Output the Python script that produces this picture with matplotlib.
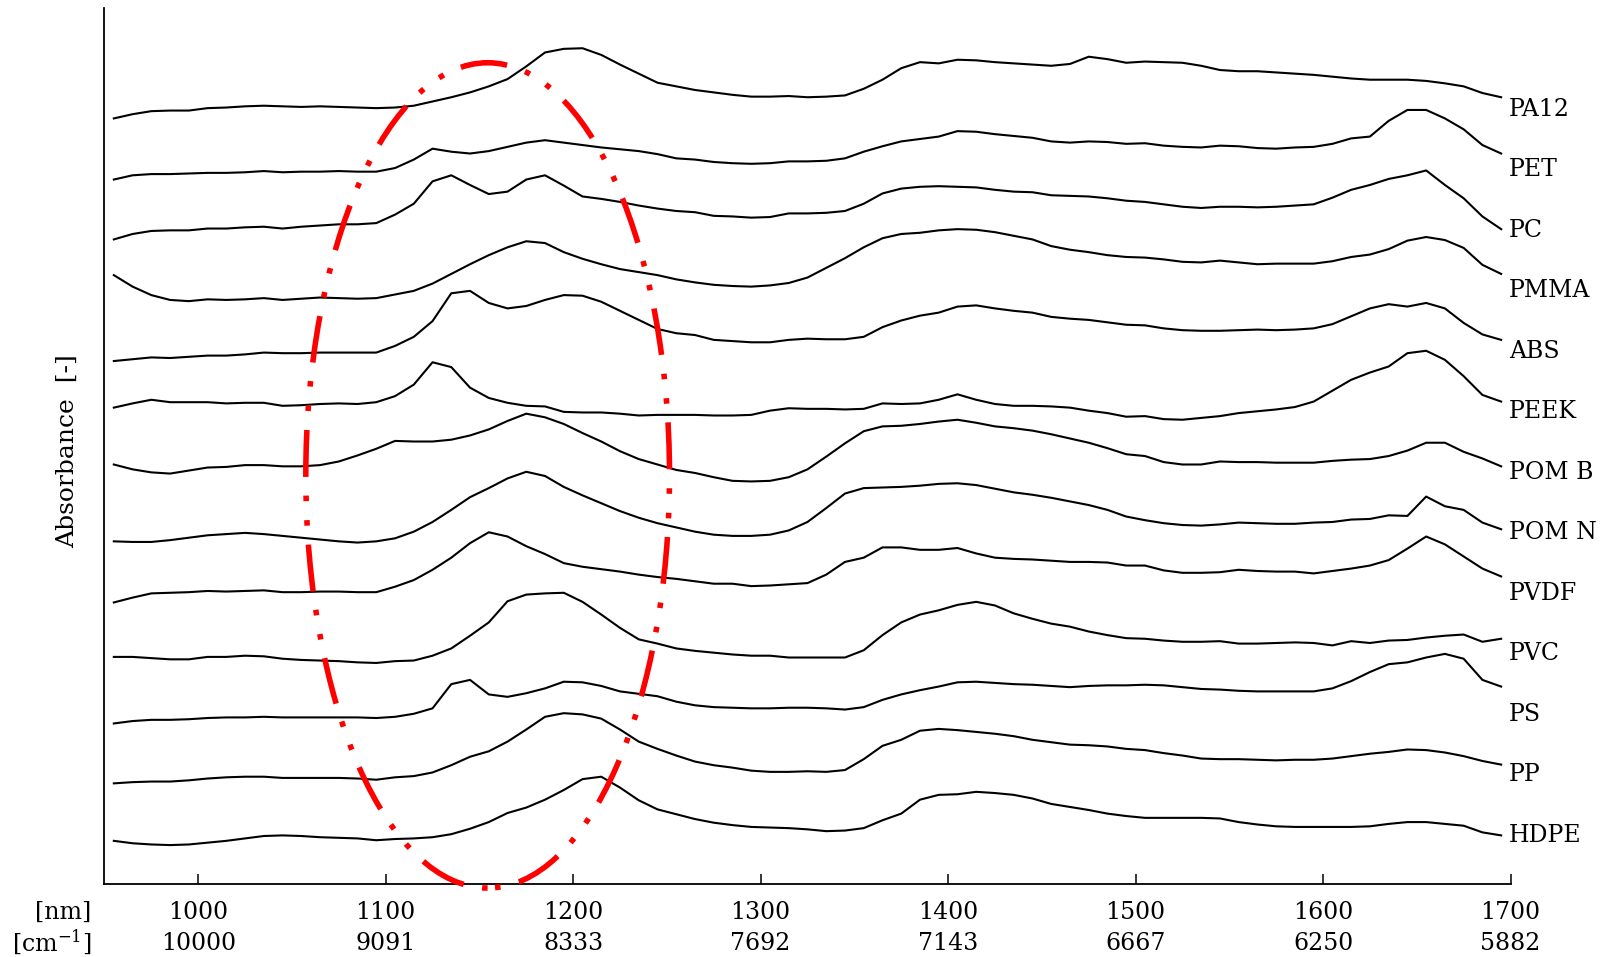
import numpy as np
import matplotlib
matplotlib.use("Agg")
import matplotlib.pyplot as plt
from matplotlib.patches import Ellipse

plt.rcParams['font.family'] = ['DejaVu Serif']
plt.rcParams['mathtext.fontset'] = 'dejavuserif'

# wavelength grid of the spectra [nm]
wavelength = np.arange(955, 1696, 10)

# spectra (arbitrary absorbance units, before stacking)
pa12 = [-0.19, -0.12, -0.07, -0.06, -0.06, -0.02, -0.01, 0.01, 0.02, 0.01,
        0.00, 0.01, 0.00, -0.01, -0.02, -0.01, 0.02, 0.09, 0.16, 0.24,
        0.34, 0.46, 0.67, 0.90, 0.96, 0.97, 0.86, 0.70, 0.55, 0.40,
        0.34, 0.28, 0.24, 0.20, 0.17, 0.17, 0.18, 0.16, 0.17, 0.19,
        0.30, 0.45, 0.64, 0.74, 0.72, 0.78, 0.77, 0.74, 0.72, 0.70,
        0.68, 0.71, 0.83, 0.79, 0.73, 0.75, 0.74, 0.73, 0.68, 0.61,
        0.59, 0.59, 0.57, 0.55, 0.53, 0.50, 0.47, 0.45, 0.45, 0.45,
        0.43, 0.39, 0.34, 0.23, 0.16]
pet = [-0.20, -0.13, -0.11, -0.11, -0.10, -0.09, -0.09, -0.08, -0.06, -0.08,
       -0.07, -0.07, -0.06, -0.07, -0.07, -0.01, 0.13, 0.31, 0.26, 0.23,
       0.27, 0.34, 0.41, 0.45, 0.41, 0.37, 0.33, 0.30, 0.27, 0.22,
       0.15, 0.13, 0.09, 0.07, 0.06, 0.07, 0.10, 0.10, 0.11, 0.15,
       0.26, 0.35, 0.43, 0.47, 0.51, 0.60, 0.59, 0.55, 0.52, 0.49,
       0.43, 0.41, 0.43, 0.42, 0.39, 0.40, 0.36, 0.34, 0.33, 0.36,
       0.35, 0.32, 0.31, 0.33, 0.34, 0.39, 0.48, 0.51, 0.77, 0.95,
       0.95, 0.81, 0.63, 0.37, 0.23]
pc = [-0.19, -0.10, -0.05, -0.04, -0.04, -0.01, -0.01, 0.01, 0.02, -0.01,
      0.02, 0.04, 0.06, 0.06, 0.08, 0.22, 0.40, 0.77, 0.87, 0.71,
      0.56, 0.60, 0.80, 0.87, 0.70, 0.52, 0.48, 0.43, 0.37, 0.32,
      0.28, 0.26, 0.20, 0.19, 0.17, 0.18, 0.24, 0.24, 0.25, 0.28,
      0.40, 0.57, 0.65, 0.68, 0.69, 0.68, 0.67, 0.63, 0.60, 0.59,
      0.54, 0.53, 0.52, 0.49, 0.45, 0.43, 0.39, 0.35, 0.33, 0.35,
      0.35, 0.34, 0.35, 0.37, 0.39, 0.50, 0.63, 0.71, 0.81, 0.87,
      0.95, 0.71, 0.49, 0.19, -0.02]
pmma = [0.22, 0.03, -0.11, -0.19, -0.21, -0.18, -0.19, -0.18, -0.16, -0.19,
        -0.17, -0.15, -0.16, -0.17, -0.16, -0.10, -0.04, 0.08, 0.24, 0.40,
        0.55, 0.68, 0.78, 0.75, 0.60, 0.49, 0.40, 0.32, 0.27, 0.22,
        0.15, 0.10, 0.06, 0.04, 0.03, 0.05, 0.09, 0.18, 0.34, 0.50,
        0.68, 0.83, 0.90, 0.92, 0.96, 0.98, 0.97, 0.93, 0.87, 0.81,
        0.70, 0.64, 0.60, 0.55, 0.52, 0.51, 0.48, 0.44, 0.43, 0.46,
        0.43, 0.40, 0.41, 0.41, 0.41, 0.45, 0.52, 0.56, 0.65, 0.79,
        0.85, 0.80, 0.67, 0.39, 0.24]
abs_ = [-0.20, -0.17, -0.14, -0.15, -0.13, -0.11, -0.11, -0.09, -0.06, -0.07,
        -0.07, -0.06, -0.06, -0.06, -0.06, 0.05, 0.20, 0.46, 0.92, 0.96,
        0.76, 0.67, 0.71, 0.81, 0.89, 0.88, 0.78, 0.63, 0.48, 0.33,
        0.26, 0.23, 0.15, 0.13, 0.11, 0.11, 0.15, 0.17, 0.16, 0.16,
        0.20, 0.36, 0.47, 0.55, 0.60, 0.70, 0.72, 0.67, 0.63, 0.60,
        0.53, 0.50, 0.48, 0.44, 0.40, 0.39, 0.34, 0.31, 0.30, 0.30,
        0.31, 0.32, 0.31, 0.32, 0.34, 0.41, 0.54, 0.67, 0.74, 0.70,
        0.76, 0.67, 0.43, 0.24, 0.15]
peek = [0.03, 0.10, 0.16, 0.12, 0.12, 0.12, 0.10, 0.11, 0.11, 0.06,
        0.07, 0.09, 0.10, 0.09, 0.12, 0.22, 0.41, 0.78, 0.70, 0.36,
        0.19, 0.11, 0.06, 0.05, -0.04, -0.05, -0.05, -0.07, -0.10, -0.09,
        -0.09, -0.09, -0.10, -0.10, -0.09, -0.02, 0.02, 0.01, 0.01, 0.00,
        0.01, 0.10, 0.09, 0.10, 0.16, 0.25, 0.16, 0.09, 0.06, 0.06,
        0.05, 0.03, -0.02, -0.06, -0.12, -0.11, -0.16, -0.17, -0.14, -0.11,
        -0.06, -0.03, 0.00, 0.04, 0.13, 0.31, 0.49, 0.61, 0.71, 0.93,
        0.97, 0.82, 0.55, 0.24, 0.13]
pom_b = [0.09, 0.01, -0.04, -0.06, -0.01, 0.04, 0.05, 0.08, 0.08, 0.06,
         0.06, 0.08, 0.14, 0.24, 0.35, 0.48, 0.47, 0.47, 0.50, 0.57,
         0.67, 0.81, 0.93, 0.87, 0.76, 0.61, 0.47, 0.31, 0.18, 0.09,
         0.00, -0.05, -0.12, -0.18, -0.19, -0.18, -0.12, 0.01, 0.22, 0.44,
         0.64, 0.72, 0.73, 0.76, 0.80, 0.83, 0.78, 0.72, 0.69, 0.65,
         0.59, 0.52, 0.45, 0.36, 0.26, 0.23, 0.13, 0.09, 0.09, 0.14,
         0.13, 0.13, 0.12, 0.12, 0.12, 0.15, 0.17, 0.18, 0.23, 0.32,
         0.45, 0.45, 0.30, 0.19, 0.06]
pom_n = [-0.18, -0.19, -0.19, -0.16, -0.12, -0.08, -0.06, -0.04, -0.06, -0.09,
         -0.12, -0.15, -0.18, -0.20, -0.18, -0.13, -0.02, 0.14, 0.34, 0.55,
         0.70, 0.86, 0.97, 0.90, 0.72, 0.58, 0.45, 0.32, 0.21, 0.12,
         0.05, -0.02, -0.07, -0.09, -0.09, -0.07, 0.00, 0.14, 0.37, 0.61,
         0.70, 0.71, 0.72, 0.74, 0.77, 0.78, 0.75, 0.69, 0.63, 0.59,
         0.54, 0.48, 0.42, 0.34, 0.23, 0.17, 0.12, 0.09, 0.08, 0.10,
         0.13, 0.12, 0.11, 0.11, 0.13, 0.14, 0.18, 0.19, 0.25, 0.24,
         0.56, 0.40, 0.34, 0.13, 0.02]
pvdf = [-0.19, -0.11, -0.04, -0.03, -0.02, 0.00, -0.01, 0.00, 0.01, -0.02,
        -0.02, -0.01, -0.01, -0.02, -0.02, 0.07, 0.18, 0.35, 0.55, 0.79,
        0.97, 0.90, 0.74, 0.61, 0.46, 0.40, 0.36, 0.32, 0.27, 0.23,
        0.20, 0.16, 0.12, 0.12, 0.08, 0.09, 0.11, 0.13, 0.27, 0.48,
        0.55, 0.72, 0.72, 0.68, 0.68, 0.71, 0.62, 0.55, 0.53, 0.52,
        0.50, 0.48, 0.48, 0.47, 0.42, 0.42, 0.34, 0.30, 0.30, 0.31,
        0.35, 0.33, 0.32, 0.32, 0.29, 0.33, 0.37, 0.42, 0.51, 0.70,
        0.90, 0.77, 0.57, 0.37, 0.24]
pvc = [-0.09, -0.09, -0.11, -0.13, -0.13, -0.09, -0.09, -0.07, -0.08, -0.12,
       -0.14, -0.15, -0.16, -0.18, -0.19, -0.16, -0.15, -0.07, 0.05, 0.26,
       0.48, 0.83, 0.94, 0.96, 0.97, 0.82, 0.61, 0.39, 0.20, 0.13,
       0.05, 0.01, -0.02, -0.05, -0.07, -0.07, -0.10, -0.10, -0.10, -0.10,
       0.02, 0.27, 0.48, 0.61, 0.68, 0.77, 0.82, 0.76, 0.63, 0.54,
       0.46, 0.41, 0.33, 0.27, 0.22, 0.21, 0.18, 0.16, 0.16, 0.17,
       0.13, 0.13, 0.14, 0.15, 0.14, 0.10, 0.17, 0.14, 0.18, 0.19,
       0.23, 0.26, 0.28, 0.16, 0.21]
ps = [-0.19, -0.15, -0.13, -0.13, -0.12, -0.10, -0.09, -0.09, -0.08, -0.09,
      -0.09, -0.09, -0.09, -0.09, -0.10, -0.08, -0.03, 0.06, 0.46, 0.53,
      0.29, 0.25, 0.31, 0.39, 0.50, 0.49, 0.43, 0.34, 0.30, 0.26,
      0.17, 0.11, 0.08, 0.07, 0.06, 0.06, 0.07, 0.07, 0.06, 0.04,
      0.08, 0.20, 0.29, 0.36, 0.42, 0.49, 0.50, 0.48, 0.46, 0.45,
      0.43, 0.41, 0.43, 0.44, 0.44, 0.45, 0.44, 0.41, 0.38, 0.37,
      0.35, 0.34, 0.34, 0.34, 0.34, 0.39, 0.51, 0.66, 0.79, 0.82,
      0.90, 0.96, 0.88, 0.53, 0.42]
pp = [-0.18, -0.16, -0.15, -0.15, -0.13, -0.10, -0.08, -0.07, -0.07, -0.09,
      -0.09, -0.09, -0.09, -0.10, -0.12, -0.08, -0.06, 0.00, 0.12, 0.26,
      0.35, 0.51, 0.71, 0.92, 0.98, 0.96, 0.89, 0.71, 0.51, 0.39,
      0.28, 0.18, 0.12, 0.08, 0.03, 0.01, 0.01, 0.02, 0.01, 0.04,
      0.22, 0.44, 0.54, 0.69, 0.72, 0.70, 0.67, 0.64, 0.60, 0.54,
      0.50, 0.46, 0.45, 0.43, 0.39, 0.37, 0.32, 0.28, 0.23, 0.22,
      0.22, 0.21, 0.20, 0.21, 0.21, 0.23, 0.27, 0.31, 0.34, 0.38,
      0.37, 0.33, 0.27, 0.19, 0.13]
hdpe = [-0.13, -0.17, -0.19, -0.20, -0.19, -0.16, -0.13, -0.09, -0.05, -0.04,
        -0.05, -0.07, -0.08, -0.09, -0.12, -0.10, -0.09, -0.07, -0.02, 0.07,
        0.18, 0.33, 0.42, 0.55, 0.71, 0.89, 0.93, 0.75, 0.54, 0.39,
        0.31, 0.23, 0.17, 0.13, 0.10, 0.09, 0.08, 0.06, 0.03, 0.04,
        0.08, 0.21, 0.32, 0.55, 0.63, 0.64, 0.68, 0.66, 0.63, 0.57,
        0.48, 0.43, 0.38, 0.32, 0.28, 0.25, 0.25, 0.25, 0.25, 0.24,
        0.18, 0.14, 0.11, 0.10, 0.10, 0.10, 0.10, 0.11, 0.15, 0.18,
        0.18, 0.15, 0.12, 0.01, -0.04]

names = ["PA12", "PET", "PC", "PMMA", "ABS", "PEEK", "POM B", "POM N",
         "PVDF", "PVC", "PS", "PP", "HDPE"]
spectra = [pa12, pet, pc, pmma, abs_, peek, pom_b, pom_n, pvdf, pvc, ps, pp, hdpe]

nm_ticks = [1000, 1100, 1200, 1300, 1400, 1500, 1600, 1700]
cm_labels = ["10000", "9091", "8333", "7692", "7143", "6667", "6250", "5882"]

fig = plt.figure(figsize=(16.02, 9.57), dpi=100)
ax = fig.add_axes([0.0652, 0.0763, 0.8777, 0.9154])

n = len(spectra)
for i, (name, spec) in enumerate(zip(names, spectra)):
    offset = n - 1 - i
    ax.plot(wavelength, np.array(spec) + offset, color='black', lw=1.5)
    ax.text(1699, offset - 0.035, name, fontsize=17, ha='left', va='center', clip_on=False)

# region of interest
ell = Ellipse((1154.4, 5.91), 194, 13.64, fill=False, edgecolor='red', lw=4,
              linestyle=(14.9, (8.45, 3.36, 1, 3.42, 1, 3.42)), clip_on=False, zorder=3)
ax.add_patch(ell)

ax.set_xlim(950, 1700)
ax.set_ylim(-0.843, 13.636)
ax.spines['top'].set_visible(False)
ax.spines['right'].set_visible(False)
ax.spines['left'].set_linewidth(1.3)
ax.spines['bottom'].set_linewidth(1.3)
ax.set_yticks([])
ax.set_xticks(nm_ticks)
ax.tick_params(axis='x', direction='in', length=7, width=1.1, labelbottom=False)

# two rows of tick labels: wavelength and wavenumber
for nm, cm in zip(nm_ticks, cm_labels):
    ax.text(nm, -0.040, str(nm), transform=ax.get_xaxis_transform(),
            ha='center', va='baseline', fontsize=17)
    ax.text(nm, -0.0755, cm, transform=ax.get_xaxis_transform(),
            ha='center', va='baseline', fontsize=17)
ax.text(-0.0096, -0.040, "[nm]", transform=ax.transAxes, ha='right', va='baseline', fontsize=17)
ax.text(-0.0096, -0.0755, "[cm$^{-1}$]", transform=ax.transAxes, ha='right', va='baseline', fontsize=17)

ax.text(-0.026, 0.4937, "Absorbance  [-]", transform=ax.transAxes, rotation=90,
        ha='center', va='center', fontsize=18)

fig.savefig("out.png", dpi=100)
